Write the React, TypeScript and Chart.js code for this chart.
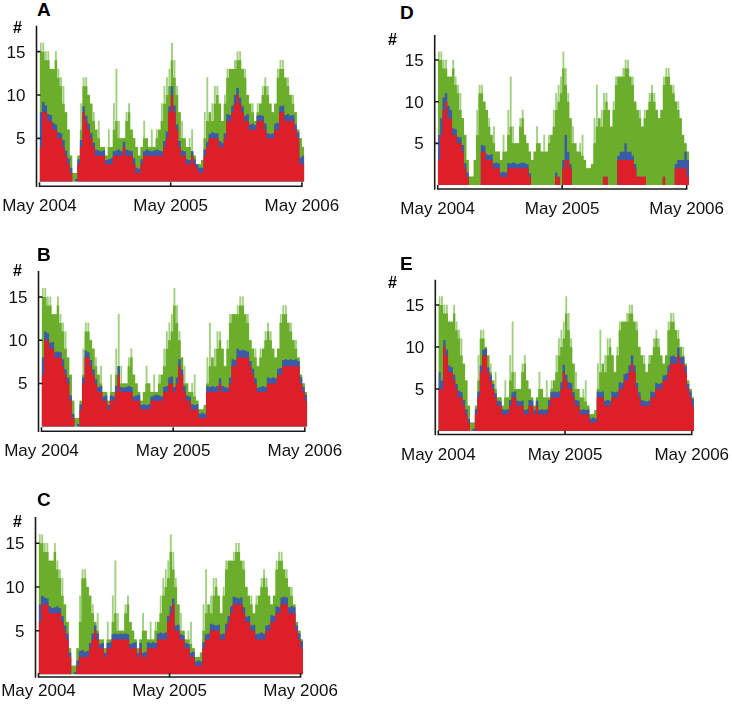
import React, { useEffect, useRef } from "react";
import { Chart, registerables } from "chart.js";

Chart.register(...registerables);

// ---------- data (weekly, May 2004 .. May 2006) ----------
const X_TICK_WEEKS = [0, 52, 104];
const X_TICK_LABELS = ["May 2004", "May 2005", "May 2006"];
const Y_TICKS = [5, 10, 15];

// total count (top of green), shared by all panels
const TOTAL = [
  15, 15, 14, 14, 13, 13, 14, 12, 11, 9,
  8, 6, 3, 1, 1, 3, 6, 11, 11, 10,
  9, 7, 6, 5, 4, 4, 3, 4, 4, 6,
  7, 5, 5, 5, 7, 8, 6, 5, 4, 3,
  4, 5, 5, 4, 4, 4, 5, 6, 7, 9,
  10, 11, 14, 12, 10, 8, 5, 5, 4, 4,
  3.5, 3, 2, 2, 2.5, 5, 7, 8, 7, 9,
  10, 9, 7, 9, 12, 13, 13, 13, 14, 14,
  13, 12, 10, 9, 8, 7, 8, 9, 10, 11,
  10, 9, 8, 9, 12, 13, 13, 12, 11, 10,
  9, 8, 6, 5, 4,
];

// short daily peaks above the weekly total (light green spikes)
const PEAK = [
  16, 16, 15, 15, 13, 13, 15, 13, 12, 11,
  8, 6, 3, 1, 1, 3, 9, 12, 12, 10,
  9, 8, 6, 7, 4, 4, 3, 6, 4, 9,
  13, 7, 5, 5, 8, 9, 6, 5, 4, 3,
  4, 7, 5, 4, 6, 4, 6, 6, 9, 11,
  12, 13, 16, 14, 11, 8, 7, 5, 4, 5,
  6, 3, 2, 2, 2.5, 8, 12, 8, 9, 11,
  11, 9, 7, 10, 13, 13, 13, 14, 15, 15,
  13, 13, 10, 9, 9, 7, 9, 9, 11, 12,
  11, 9, 8, 9, 13, 14, 14, 12, 12, 10,
  10, 8, 6, 5, 4,
];

const RED_A = [
  4, 8, 8, 7, 7, 6, 6, 5, 5, 4,
  3, 2, 1, 0, 0, 2, 4, 8, 7, 6,
  5, 4, 3, 3, 3, 3, 2, 2, 2, 3,
  3, 3, 3, 4, 3, 3, 3, 2, 1, 1,
  2, 3, 3, 3, 3, 3, 3, 3, 3, 4,
  5, 8, 10, 8, 6, 4, 3, 3, 2, 2,
  3, 2, 1.5, 1, 1, 3, 4, 5, 5, 5,
  5, 4, 4, 5, 7, 7, 8, 9, 10, 9,
  8, 7, 7, 6, 6, 6, 7, 7, 7, 6,
  5, 5, 5, 6, 6, 8, 8, 7, 7, 7,
  7, 6, 5, 2, 2,
];
const BLUE_A = [
  4, 1.2, 0.8, 0.8, 0.7, 0.8, 0.6, 0.7, 0.6, 0.8,
  0.6, 0.7, 0.6, 0, 0.3, 0.6, 0.8, 0.7, 0.6, 0.7,
  0.6, 0.5, 0.7, 0.6, 0.5, 0.6, 0.5, 0.6, 0.7, 0.5,
  0.6, 0.7, 0.5, 0.6, 0.7, 0.6, 0.5, 0.7, 0.6, 0.5,
  0.6, 0.5, 0.7, 0.6, 0.5, 0.6, 0.7, 0.6, 0.5, 0.7,
  0.8, 0.7, 1, 0.8, 0.6, 0.7, 0.6, 0.5, 0.6, 0.5,
  0.5, 0.6, 0.5, 0.6, 0.6, 0.7, 0.6, 0.5, 0.7, 0.6,
  0.6, 0.7, 0.5, 0.6, 0.8, 0.7, 0.8, 1, 0.8, 0.7,
  0.7, 0.6, 0.8, 0.6, 0.7, 0.5, 0.6, 0.7, 0.6, 0.7,
  0.6, 0.5, 0.6, 0.7, 0.8, 0.7, 0.8, 0.7, 0.8, 0.6,
  0.7, 0.6, 0.7, 0.8, 1,
];

const RED_B = [
  6, 10, 10, 9, 9, 8, 8, 8, 7, 6,
  5, 3, 1, 0, 0, 2, 5, 8, 8, 7,
  6, 5, 4, 4, 3, 3, 2, 3, 3, 4,
  6, 4, 4, 4, 4, 4, 3, 3, 3, 2,
  2, 2, 2, 3, 3, 3, 3, 3, 4, 4,
  5, 5, 4, 5, 7, 6, 4, 3, 3, 2,
  2, 2, 1, 1, 1, 4, 4, 4, 4, 4,
  5, 4, 4, 4, 5, 7, 7, 8, 8, 8,
  8, 8, 7, 6, 5, 4, 4, 4, 4, 5,
  5, 5, 5, 6, 6, 7, 7, 7, 7, 7,
  7, 7, 5, 4, 3,
];
const BLUE_B = [
  2, 1, 0.8, 0.7, 0.8, 0.6, 0.7, 0.6, 0.8, 0.6,
  0.7, 0.6, 0.5, 0, 0.3, 0.6, 0.7, 0.8, 0.6, 0.7,
  0.6, 0.5, 0.6, 0.7, 0.5, 0.6, 0.5, 0.6, 0.5, 0.7,
  1, 0.6, 0.5, 0.6, 0.7, 0.6, 0.5, 0.6, 0.7, 0.5,
  0.6, 0.5, 0.6, 0.5, 0.6, 0.7, 0.6, 0.5, 0.6, 0.7,
  0.7, 0.8, 0.6, 0.7, 0.8, 0.6, 0.7, 0.6, 0.5, 0.6,
  0.5, 0.6, 0.5, 0.6, 0.5, 0.7, 0.6, 0.7, 0.6, 0.7,
  0.6, 0.7, 0.6, 0.5, 0.7, 0.8, 0.7, 1, 0.8, 0.9,
  0.8, 0.7, 0.6, 0.7, 0.6, 0.5, 0.6, 0.7, 0.6, 0.7,
  0.6, 0.7, 0.6, 0.7, 0.8, 0.7, 0.8, 0.7, 0.8, 0.7,
  0.8, 0.6, 0.7, 0.6, 0.7,
];

const RED_C = [
  6, 8, 8, 8, 7, 7, 7, 7, 7, 6,
  5, 4, 2, 0, 0, 1, 2, 2, 2, 2,
  3, 4, 5, 4, 3, 3, 2, 3, 3, 4,
  4, 4, 4, 4, 4, 4, 3, 3, 3, 2,
  3, 2, 2, 3, 3, 3, 3, 4, 4, 4,
  4, 6, 7, 8, 5, 5, 4, 4, 3, 3,
  2, 2, 1, 1, 1, 3, 4, 4, 5, 5,
  5, 5, 4, 4, 5, 6, 7, 8, 8, 8,
  8, 7, 6, 6, 5, 5, 4, 4, 4, 4,
  5, 5, 6, 6, 7, 7, 8, 8, 8, 7,
  7, 7, 5, 4, 3,
];
const BLUE_C = [
  2, 1, 0.8, 0.7, 0.8, 0.6, 0.7, 0.8, 0.6, 0.7,
  0.6, 0.7, 0.5, 0, 0.3, 0.6, 0.7, 0.8, 0.6, 0.7,
  0.6, 0.7, 0.6, 0.7, 0.5, 0.6, 0.5, 0.6, 0.7, 0.6,
  0.7, 0.6, 0.7, 0.6, 0.7, 0.6, 0.5, 0.6, 0.7, 0.5,
  0.6, 0.5, 0.6, 0.7, 0.6, 0.7, 0.6, 0.7, 0.8, 0.7,
  0.8, 0.7, 0.8, 0.7, 0.6, 0.7, 0.6, 0.5, 0.6, 0.5,
  0.5, 0.6, 0.5, 0.6, 0.5, 0.7, 0.6, 0.7, 0.8, 0.7,
  0.6, 0.7, 0.6, 0.7, 0.8, 0.7, 0.8, 0.9, 0.8, 0.7,
  0.8, 0.7, 0.6, 0.7, 0.6, 0.7, 0.6, 0.7, 0.8, 0.7,
  0.6, 0.7, 0.8, 0.7, 0.8, 0.7, 0.8, 0.9, 0.8, 0.7,
  0.8, 0.7, 0.6, 0.7, 0.8,
];

const RED_D = [
  3, 6, 9, 10, 8, 8, 6, 6, 5, 5,
  4, 2, 1, 0, 0, 0, 0, 0, 4, 4,
  3, 3, 3, 2, 2, 2, 1, 1, 1, 2,
  2, 2, 2, 2, 2, 2, 2, 2, 1, 0,
  0, 0, 0, 0, 0, 0, 0, 0, 0, 1,
  1, 0, 2, 3, 3, 2, 0, 0, 0, 0,
  0, 0, 0, 0, 0, 0, 0, 0, 0, 1,
  1, 0, 0, 0, 0, 3, 3, 3, 3, 3,
  3, 3, 2, 1, 1, 1, 1, 0, 0, 0,
  0, 0, 0, 0, 1, 0, 0, 0, 0, 2,
  2, 2, 2, 2, 1,
];
const BLUE_D = [
  3, 2, 1.5, 1, 1.5, 1, 0.8, 0.7, 0.8, 0.7,
  0.8, 0.6, 0.5, 0, 0, 0, 0, 0, 0.8, 0.7,
  0.7, 0.6, 0.7, 0.6, 0.7, 0.6, 0.5, 0.6, 0.5, 0.6,
  0.6, 0.7, 0.6, 0.5, 0.6, 0.7, 0.6, 0.5, 0.4, 0,
  0, 0, 0, 0, 0, 0, 0, 0, 0, 0.5,
  0, 0, 1, 3, 1, 0.5, 0, 0, 0, 0,
  0, 0, 0, 0, 0, 0, 0, 0, 0, 0,
  0, 0, 0, 0, 0, 0.5, 1, 1, 2, 1,
  1, 0.5, 0.5, 0, 0, 0, 0, 0, 0, 0,
  0, 0, 0, 0, 0, 0, 0, 0, 0, 0.5,
  1, 1, 1, 2, 2,
];

const RED_E = [
  5, 5, 10, 9, 7, 7, 6, 5, 4, 4,
  3, 2, 1, 0, 0, 2, 4, 7, 9, 9,
  7, 6, 5, 4, 3, 3, 2, 2, 2, 3,
  4, 4, 3, 3, 3, 2, 2, 3, 3, 2,
  3, 2, 2, 2, 2, 3, 4, 4, 4, 4,
  5, 7, 6, 5, 5, 4, 3, 3, 2, 2,
  2, 2, 1, 1, 1, 4, 4, 4, 3, 3,
  3, 4, 4, 4, 5, 5, 6, 6, 7, 8,
  7, 5, 4, 3, 3, 3, 3, 4, 4, 5,
  5, 5, 6, 6, 7, 8, 8, 8, 9, 8,
  8, 7, 5, 4, 3,
];
const BLUE_E = [
  2, 1, 0.8, 0.7, 0.8, 0.6, 0.7, 0.6, 0.8, 0.6,
  0.7, 0.6, 0.5, 0, 0.3, 0.6, 0.7, 0.8, 0.7, 0.8,
  0.6, 0.7, 0.6, 0.5, 0.6, 0.5, 0.6, 0.5, 0.6, 0.7,
  0.6, 0.7, 0.6, 0.5, 0.6, 0.5, 0.6, 0.7, 0.6, 0.5,
  0.6, 0.5, 0.6, 0.5, 0.6, 0.7, 0.6, 0.7, 0.6, 0.7,
  0.8, 0.9, 0.7, 0.8, 0.7, 0.6, 0.7, 0.6, 0.5, 0.6,
  0.5, 0.6, 0.5, 0.6, 0.5, 0.7, 0.6, 0.7, 0.6, 0.7,
  0.6, 0.7, 0.6, 0.7, 0.8, 0.7, 0.8, 0.9, 0.8, 1,
  0.8, 0.7, 0.6, 0.7, 0.6, 0.5, 0.6, 0.7, 0.6, 0.7,
  0.6, 0.7, 0.6, 0.7, 0.8, 0.9, 1, 0.8, 0.9, 0.8,
  0.8, 0.7, 0.6, 0.7, 0.8,
];

// ---------- styles / layout ----------
const FONT = '"Liberation Sans", Arial, Helvetica, sans-serif';
const RED = "#dc1f28";
const BLUE = "#3d5aa8";
const GREEN = "#6aae2b";
const LIGHT_GREEN = "#a2cf80";
const Y_MAX = 18;
const SPAN = 105;

type PanelCfg = {
  letter: string;
  red: number[];
  blue: number[];
  xL: number;
  pw: number;
  zeroY: number;
  unit: number;
  axisGap: number;
  labelDy: number;
  letterX: number;
  letterCapTop: number;
  hashX: number;
  hashBase: number;
};

const PANELS: PanelCfg[] = [
  { letter: "A", red: RED_A, blue: BLUE_A, xL: 39.5, pw: 2.523, zeroY: 181.7, unit: 8.67, axisGap: 4.5, labelDy: 25, letterX: 37, letterCapTop: 2, hashX: 13, hashBase: 33 },
  { letter: "B", red: RED_B, blue: BLUE_B, xL: 41.5, pw: 2.532, zeroY: 426.7, unit: 8.65, axisGap: 4.5, labelDy: 25, letterX: 37, letterCapTop: 247, hashX: 13, hashBase: 276 },
  { letter: "C", red: RED_C, blue: BLUE_C, xL: 38.5, pw: 2.52, zeroY: 674.5, unit: 8.75, axisGap: 2.5, labelDy: 19, letterX: 37, letterCapTop: 492, hashX: 13, hashBase: 527 },
  { letter: "D", red: RED_D, blue: BLUE_D, xL: 437.7, pw: 2.394, zeroY: 185, unit: 8.33, axisGap: 4, labelDy: 25, letterX: 400, letterCapTop: 5, hashX: 388, hashBase: 45 },
  { letter: "E", red: RED_E, blue: BLUE_E, xL: 438.3, pw: 2.437, zeroY: 431, unit: 8.4, axisGap: 3.5, labelDy: 25, letterX: 400, letterCapTop: 256, hashX: 388, hashBase: 288 },
];

function makePoints(vals: number[]) {
  const pts = vals.map((v, i) => ({ x: i, y: v }));
  pts.push({ x: vals.length, y: vals[vals.length - 1] });
  return pts;
}

function PanelChart({ cfg }: { cfg: PanelCfg }) {
  const ref = useRef<HTMLCanvasElement>(null);
  const plotW = SPAN * cfg.pw;
  const plotH = Y_MAX * cfg.unit;
  const left = Math.floor(cfg.xL - 42);
  const top = Math.floor(cfg.zeroY - plotH - 4);
  const width = Math.ceil(plotW + 42 + 50);
  const height = Math.ceil(plotH + 4 + 36);

  useEffect(() => {
    const canvas = ref.current!;
    const padL = cfg.xL - left;
    const padT = cfg.zeroY - plotH - top;
    const padR = width - padL - plotW;
    const padB = height - padT - plotH;

    const redCum = cfg.red.slice();
    const blueCum = cfg.red.map((r, i) => r + cfg.blue[i]);
    const totCum = TOTAL.map((t, i) => Math.max(t, blueCum[i]));
    const peaks = PEAK.map((v, i) => ({ x: i + 0.5, y: Math.max(v, totCum[i]) }));

    const axesPlugin = {
      id: "axesDraw",
      afterDraw(chart: any) {
        const ctx = chart.ctx as CanvasRenderingContext2D;
        const xs = chart.scales.x;
        const ys = chart.scales.y;
        const axisY = ys.getPixelForValue(0) + cfg.axisGap;
        const axisX = xs.getPixelForValue(0) - 3;
        ctx.save();
        ctx.strokeStyle = "#1a1a1a";
        ctx.lineWidth = 1.6;
        ctx.beginPath();
        ctx.moveTo(axisX, ys.getPixelForValue(Y_MAX));
        ctx.lineTo(axisX, axisY + 0.8);
        ctx.moveTo(xs.getPixelForValue(0), axisY);
        ctx.lineTo(xs.getPixelForValue(104), axisY);
        Y_TICKS.forEach((v) => {
          const y = ys.getPixelForValue(v);
          ctx.moveTo(axisX, y);
          ctx.lineTo(axisX + 4, y);
        });
        X_TICK_WEEKS.forEach((w) => {
          const x = xs.getPixelForValue(w);
          ctx.moveTo(x, axisY + 0.8);
          ctx.lineTo(x, axisY - 4);
        });
        ctx.stroke();
        ctx.fillStyle = "#111";
        ctx.font = `17px ${FONT}`;
        ctx.textBaseline = "alphabetic";
        ctx.textAlign = "right";
        Y_TICKS.forEach((v) => {
          ctx.fillText(String(v), axisX - 11, ys.getPixelForValue(v) + 6);
        });
        ctx.textAlign = "center";
        X_TICK_WEEKS.forEach((w, k) => {
          ctx.fillText(X_TICK_LABELS[k], xs.getPixelForValue(w), axisY + cfg.labelDy);
        });
        ctx.restore();
      },
    };

    const common = { borderWidth: 0, pointRadius: 0, stepped: "before" as const, fill: "origin" as const };
    const chart = new Chart(canvas, {
      type: "line",
      data: {
        datasets: [
          { ...common, order: 0, data: makePoints(redCum), backgroundColor: RED, borderColor: RED },
          { ...common, order: 1, data: makePoints(blueCum), backgroundColor: BLUE, borderColor: BLUE },
          { ...common, order: 2, data: makePoints(totCum), backgroundColor: GREEN, borderColor: GREEN },
          {
            type: "bar" as const,
            order: 3,
            data: peaks,
            backgroundColor: LIGHT_GREEN,
            borderWidth: 0,
            barThickness: 1.2,
          } as any,
        ],
      },
      options: {
        responsive: false,
        animation: false,
        events: [],
        layout: { padding: { left: padL, top: padT, right: padR, bottom: padB } },
        plugins: { legend: { display: false }, tooltip: { enabled: false }, title: { display: false } },
        scales: {
          x: { type: "linear", min: 0, max: SPAN, display: false, offset: false },
          y: { type: "linear", min: 0, max: Y_MAX, display: false },
        },
      },
      plugins: [axesPlugin],
    });
    return () => chart.destroy();
  }, []);

  return (
    <canvas
      ref={ref}
      width={width}
      height={height}
      style={{ position: "absolute", left, top, width, height }}
    />
  );
}

export default function App() {
  return (
    <div
      style={{
        position: "fixed",
        left: 0,
        top: 0,
        width: 732,
        height: 704,
        overflow: "hidden",
        background: "#fff",
        fontFamily: FONT,
      }}
    >
      {PANELS.map((p) => (
        <React.Fragment key={p.letter}>
          <PanelChart cfg={p} />
          <div
            style={{
              position: "absolute",
              left: p.letterX,
              top: p.letterCapTop - 2.5,
              fontSize: 19,
              lineHeight: "19px",
              fontWeight: "bold",
              color: "#000",
            }}
          >
            {p.letter}
          </div>
          <div
            style={{
              position: "absolute",
              left: p.hashX,
              top: p.hashBase - 13.5,
              fontSize: 16,
              lineHeight: "16px",
              fontWeight: "bold",
              color: "#000",
            }}
          >
            #
          </div>
        </React.Fragment>
      ))}
    </div>
  );
}
